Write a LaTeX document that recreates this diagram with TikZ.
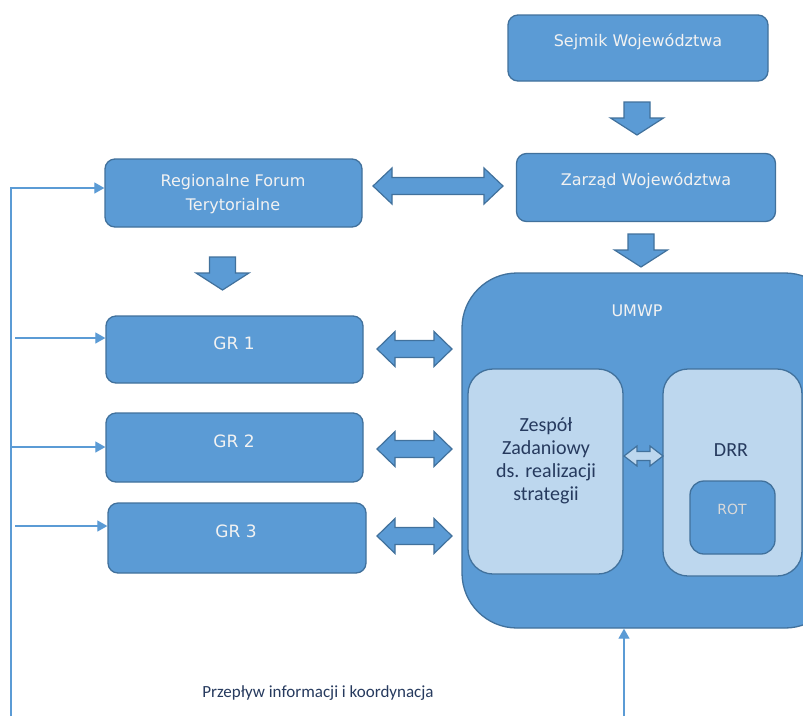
\documentclass[tikz,border=0pt]{standalone}
\usepackage{fontspec}
\setmainfont{DejaVu Sans}
\newfontfamily\carl{Carlito}
\usetikzlibrary{arrows.meta,calc}
\definecolor{boxc}{HTML}{5B9BD5}
\definecolor{bordc}{HTML}{41719C}
\definecolor{lightc}{HTML}{BDD7EE}
\definecolor{darkt}{HTML}{263A5E}
\definecolor{wt}{HTML}{F2F2F2}
\definecolor{linec}{HTML}{5B9BD5}
\tikzset{
  box/.style={draw=bordc, fill=boxc, line width=1.3pt, rounded corners=10pt, inner sep=0pt},
  lbox/.style={draw=bordc, fill=lightc, line width=1.3pt, rounded corners=25pt, inner sep=0pt},
  wtext/.style={text=wt, font=\fontsize{16}{24}\selectfont, align=center, inner sep=0pt},
  dtext/.style={text=darkt, font=\carl\fontsize{20}{23}\selectfont, align=center, inner sep=0pt},
  flow/.style={draw=linec, line width=1.2pt},
  flowarrow/.style={flow, -{Triangle[length=10pt,width=11pt]}},
  blk/.style={draw=bordc, fill=boxc, line width=1.2pt, line join=miter},
  pics/downblk/.style={code={
    \draw[blk] (-13,0) -- (13,0) -- (13,16) -- (26.5,16) -- (0,33) -- (-26.5,16) -- (-13,16) -- cycle;}},
  pics/dblarrow/.style n args={5}{code={
    \draw[blk,#5] ({-#1/2},0) -- ({-#1/2+#4},{-#2/2}) -- ({-#1/2+#4},{-#3/2}) -- ({#1/2-#4},{-#3/2})
      -- ({#1/2-#4},{-#2/2}) -- ({#1/2},0) -- ({#1/2-#4},{#2/2}) -- ({#1/2-#4},{#3/2})
      -- ({-#1/2+#4},{#3/2}) -- ({-#1/2+#4},{#2/2}) -- cycle;}},
}
\begin{document}
\begin{tikzpicture}[x=1pt,y=-1pt]
\useasboundingbox (0,0) rectangle (803,716);
\clip (0,0) rectangle (803,716);
\fill[white] (0,0) rectangle (803,716);

% boxes
\node[box, minimum width=260pt, minimum height=66pt] (sejmik) at (638,48) {};
\node[box, minimum width=259pt, minimum height=68pt] (zarzad) at (646,187.5) {};
\node[box, minimum width=257pt, minimum height=68pt] (rft) at (233.5,193) {};
\node[box, minimum width=257pt, minimum height=67pt] (gr1) at (234.5,349.5) {};
\node[box, minimum width=257pt, minimum height=69pt] (gr2) at (234.5,447.5) {};
\node[box, minimum width=258pt, minimum height=70pt] (gr3) at (237,538) {};
\node[box, rounded corners=55pt, minimum width=378pt, minimum height=355pt] (umwp) at (651,450.5) {};
\node[lbox, minimum width=155pt, minimum height=205pt] (zespol) at (545.5,471.5) {};
\node[lbox, minimum width=139pt, minimum height=207pt] (drr) at (732.5,472.5) {};
\node[box, rounded corners=14pt, minimum width=85pt, minimum height=73pt] (rot) at (732.5,517.5) {};

% texts
\node[wtext] (sejmikT) at (638,42) {Sejmik Województwa};
\node[wtext] (zarzadT) at (646,181) {Zarząd Województwa};
\node[wtext] (rftT) at (233,194) {Regionalne Forum\\Terytorialne};
\node[wtext, font=\fontsize{17}{20}\selectfont] (gr1T) at (234,343) {GR 1};
\node[wtext, font=\fontsize{17}{20}\selectfont] (gr2T) at (234,441) {GR 2};
\node[wtext, font=\fontsize{17}{20}\selectfont] (gr3T) at (236,531) {GR 3};
\node[wtext, font=\fontsize{16}{20}\selectfont] (umwpT) at (637,311) {UMWP};
\node[dtext] (zespolT) at (546,461) {Zespół\\Zadaniowy\\ds. realizacji\\strategii};
\node[dtext] (drrT) at (731,450) {DRR};
\node[wtext, text=black!15, font=\fontsize{14}{16}\selectfont] (rotT) at (732,509) {ROT};
\node[text=darkt, font=\carl\fontsize{17}{18}\selectfont, inner sep=0pt] (flowT) at (318,693) {Przepływ informacji i koordynacja};

% block arrows
\pic at (637,102) {downblk};
\pic at (641,234) {downblk};
\pic at (222.5,257) {downblk};
\pic at (438,186) {dblarrow={130}{36}{17}{19}{}};
\pic at (414.5,349) {dblarrow={75}{35}{17}{18}{}};
\pic at (414.5,449) {dblarrow={75}{35}{17}{18}{}};
\pic at (414.5,536) {dblarrow={75}{35}{17}{18}{}};
\pic at (643.5,456) {dblarrow={39}{20}{9}{13}{fill=lightc}};

% flow lines
\coordinate (top) at (11,188);
\coordinate (bot) at (11,716);
\draw[flowarrow] (bot) -- (top) -- (top -| rft.west);
\coordinate (g1s) at (15,338);
\draw[flowarrow] (g1s) -- (g1s -| gr1.west);
\coordinate (g2s) at (11,447);
\draw[flowarrow] (g2s) -- (g2s -| gr2.west);
\coordinate (g3s) at (15,526);
\draw[flowarrow] (g3s) -- (g3s -| gr3.west);
\coordinate (b2) at (624,716);
\draw[flowarrow] (b2) -- (b2 |- umwp.south);
\end{tikzpicture}
\end{document}
